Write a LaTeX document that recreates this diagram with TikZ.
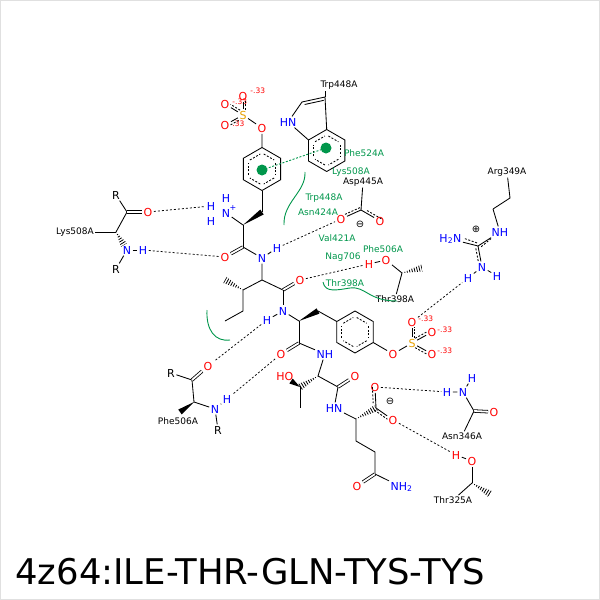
\documentclass[tikz,border=0pt]{standalone}
\usepackage{fontspec}
\setmainfont{DejaVu Sans}
\usepackage{tikz}
\usetikzlibrary{calc}
\definecolor{ored}{RGB}{255,0,0}
\definecolor{nblue}{RGB}{0,0,255}
\definecolor{sorange}{RGB}{230,160,0}
\definecolor{hgreen}{RGB}{0,150,75}
\newcommand{\wedgebond}[2]{\fill (#1) -- ($(#2)!3pt!90:(#1)$) -- ($(#2)!3pt!-90:(#1)$) -- cycle;}
\newcommand{\hashbond}[2]{\begin{scope}\clip (#1) -- ($(#2)!3.5pt!90:(#1)$) -- ($(#2)!3.5pt!-90:(#1)$) -- cycle;
  \draw[line width=8pt,dash pattern=on .8pt off 1.7pt] (#1) -- (#2);\end{scope}}
\newcommand{\parbond}[3][]{\draw[dl,#1] ($(#2)!2.6pt!-90:(#3)$) -- ($(#3)!2.6pt!90:(#2)$);}
\begin{document}
\begin{tikzpicture}[x=1pt,y=-1pt,line width=0.85pt,
  atom/.style={inner sep=1.2pt,font=\fontsize{11}{12}\selectfont},
  oatom/.style={atom,text=ored},
  natom/.style={atom,text=nblue},
  satom/.style={atom,text=sorange},
  res/.style={inner sep=1pt,font=\fontsize{9}{10}\selectfont},
  hres/.style={res,text=hgreen},
  chg/.style={inner sep=0pt,anchor=west,text=ored,font=\fontsize{7.5}{8}\selectfont},
  dl/.style={dash pattern=on 2pt off 1.6pt},
  hb/.style={dash pattern=on 2pt off 2pt,line width=0.75pt},
  dbl/.style={double,double distance=1.8pt,line width=0.8pt},
  hy/.style={draw=hgreen,line width=0.9pt}]
\useasboundingbox (0,0) rectangle (600,600);
\draw[black!12,line width=1pt] (0.5,0.5) rectangle (599.5,599.5);

% first TYS, ring and sulfate
\coordinate (ta) at (262,169);
\foreach \a [count=\i] in {270,330,30,90,150,210} \coordinate (ta\i) at ($(ta)+(\a:21.5)$);
\draw (ta1)--(ta2)--(ta3)--(ta4)--(ta5)--(ta6)--cycle;
\foreach \a in {270,330,...,570} \draw[dl,shorten <=2pt,shorten >=2pt] ($(ta)+(\a:16)$) -- ($(ta)+(\a+60:16)$);
\node[oatom] (toa) at (262,128) {O};
\node[satom] (tsa) at (243,115) {S};
\node[oatom] (toa1) at (243,96) {O};
\node[oatom] (toa2) at (225,104) {O};
\node[oatom] (toa3) at (225,125) {O};
\node[chg] at (250,91) {-.33};
\node[chg] at (232,102) {-.33};
\node[chg] at (232,124) {.33};
\draw (ta1) -- (toa) -- (tsa);
\draw (tsa) -- (toa1); \parbond[shorten <=5pt,shorten >=5pt]{tsa}{toa1}
\draw (tsa) -- (toa2); \parbond[shorten <=5pt,shorten >=5pt]{tsa}{toa2}
\draw (tsa) -- (toa3); \parbond[shorten <=5pt,shorten >=5pt]{toa3}{tsa}
\coordinate (tb) at (262,212);
\coordinate (tc) at (243,225);
\draw (ta4) -- (tb);
\wedgebond{tc}{tb}
\node[natom] (tn) at (226,213) {N};
\node[natom,font=\fontsize{8}{8}\selectfont,inner sep=0pt] at (233,208) {+};
\node[natom] (tnh1) at (226,198) {H};
\node[natom] (tnh2) at (211,206) {H};
\node[natom] (tnh3) at (211,221) {H};
\draw (tc) -- (tn);
\coordinate (tcc) at (243,247);
\draw (tc) -- (tcc);
\node[oatom] (tco) at (225,257) {O};
\draw[dbl] (tcc) -- (tco);

% ILE
\node[natom] (in) at (262,258) {N};
\node[natom] (inh) at (277,248) {H};
\draw (tcc) -- (in); \draw (in) -- (inh);
\coordinate (ia) at (262,280);
\coordinate (ib) at (243,290);
\coordinate (im) at (225,280);
\coordinate (ig) at (243,311);
\coordinate (id) at (225,321);
\coordinate (ic) at (283,290);
\draw (in) -- (ia) -- (ib) -- (ig) -- (id);
\hashbond{ib}{im}
\draw (ia) -- (ic);
\node[oatom] (io) at (300,280) {O};
\draw[dbl] (ic) -- (io);

% second TYS
\node[natom] (yn) at (283,311) {N};
\node[natom] (ynh) at (267,320) {H};
\draw (ic) -- (yn); \draw (yn) -- (ynh);
\coordinate (ya) at (299,321);
\coordinate (yb) at (318,311);
\draw (yn) -- (ya);
\wedgebond{ya}{yb}
\coordinate (yr) at (355,332);
\foreach \a [count=\i] in {270,330,30,90,150,210} \coordinate (yr\i) at ($(yr)+(\a:21)$);
\draw (yr1)--(yr2)--(yr3)--(yr4)--(yr5)--(yr6)--cycle;
\foreach \a in {270,330,...,570} \draw[dl,shorten <=2pt,shorten >=2pt] ($(yr)+(\a:15.5)$) -- ($(yr)+(\a+60:15.5)$);
\draw (yb) -- (yr6);
\node[oatom] (yoa) at (393,354) {O};
\node[satom] (ysa) at (412,343) {S};
\node[oatom] (yob) at (412,322) {O};
\node[oatom] (yoc) at (432,332) {O};
\node[oatom] (yod) at (432,354) {O};
\node[chg] at (418,319) {-.33};
\node[chg] at (437,330) {-.33};
\node[chg] at (437,351) {-.33};
\draw (yr3) -- (yoa) -- (ysa);
\draw (ysa) -- (yob); \parbond[shorten <=5pt,shorten >=5pt]{ysa}{yob}
\draw (ysa) -- (yoc); \parbond[shorten <=5pt,shorten >=5pt]{yoc}{ysa}
\draw (ysa) -- (yod); \parbond[shorten <=5pt,shorten >=5pt]{ysa}{yod}
\coordinate (yc) at (299,343);
\draw (ya) -- (yc);
\node[oatom] (yo) at (281,354) {O};
\draw[dbl] (yc) -- (yo);

% THR
\node[natom,anchor=west] (rn) at (315,354) {NH};
\draw (yc) -- (rn);
\coordinate (ha) at (318,376);
\coordinate (hb) at (300,387);
\coordinate (hw) at (291,381);
\coordinate (hg) at (300,408);
\coordinate (hc) at (338,387);
\draw (rn) -- (ha);
\hashbond{ha}{hb}
\node[oatom,anchor=east] (ho) at (295,376) {HO};
\wedgebond{hb}{hw}
\draw (hb) -- (hg);
\draw (ha) -- (hc);
\node[oatom] (hco) at (355,376) {O};
\draw[dbl] (hc) -- (hco);

% GLN
\node[natom,anchor=east] (qn) at (344,408) {HN};
\draw (hc) -- (qn);
\coordinate (qa) at (356,419);
\coordinate (qc) at (376,408);
\draw (qn) -- (qa);
\hashbond{qa}{qc}
\node[oatom] (qo1) at (375,387) {O};
\node[oatom] (qo2) at (393,420) {O};
\node[atom,font=\fontsize{10}{10}\selectfont,inner sep=0pt] at (390,401) {⊖};
\draw (qc) -- (qo1); \parbond[shorten >=5pt]{qo1}{qc}
\draw (qc) -- (qo2); \parbond[shorten >=5pt]{qc}{qo2}
\coordinate (qb) at (356,441);
\coordinate (qg) at (375,452);
\coordinate (qd) at (375,474);
\draw (qa) -- (qb) -- (qg) -- (qd);
\node[oatom] (qdo) at (357,486) {O};
\draw[dbl] (qd) -- (qdo);
\node[natom,anchor=west] (qdn) at (389,487) {NH\textsubscript{2}};
\draw (qd) -- (qdn);

% Asp445A
\node[res] (asp) at (363,182) {Asp445A};
\coordinate (dc) at (361,210);
\draw (asp) -- (dc);
\node[oatom] (do1) at (341,219) {O};
\node[oatom] (do2) at (380,221) {O};
\node[atom,font=\fontsize{10}{10}\selectfont,inner sep=0pt] at (360,224) {⊖};
\draw (dc) -- (do1); \parbond[shorten >=5pt]{dc}{do1}
\draw (dc) -- (do2); \parbond[shorten >=5pt]{do2}{dc}

% Thr398A
\node[oatom] (tho) at (386,260) {O};
\node[oatom] (thh) at (369,264) {H};
\draw (tho) -- (thh);
\coordinate (thc) at (402,273);
\coordinate (thm) at (422,268);
\draw (tho) -- (thc);
\hashbond{thc}{thm}
\node[res] (thr) at (395,299) {Thr398A};
\draw (thc) -- (thr);

% Arg349A
\node[res] (arg) at (507,172) {Arg349A};
\coordinate (g1) at (510,198);
\coordinate (g2) at (493,209);
\coordinate (gz) at (478,246);
\draw (arg) -- (g1) -- (g2);
\node[natom,anchor=west] (gne) at (490,232) {NH};
\node[natom,anchor=east] (gn1) at (463,239) {H\textsubscript{2}N};
\node[natom] (gn2) at (482,267) {N};
\node[natom] (gh1) at (497,276) {H};
\node[natom] (gh2) at (468,278) {H};
\node[atom,font=\fontsize{10}{10}\selectfont,inner sep=0pt] at (476,229) {⊕};
\draw (g2) -- (gne);
\draw (gz) -- (gne); \parbond[shorten <=2pt,shorten >=6pt]{gz}{495,232}
\draw (gz) -- (gn1); \parbond[shorten <=2pt,shorten >=6pt]{gz}{458,239}
\draw (gz) -- (gn2); \parbond[shorten <=2pt,shorten >=6pt]{gz}{482,267}
\draw (gn2) -- (gh1); \draw (gn2) -- (gh2);

% Asn346A
\node[natom] (nh1) at (447,392) {H};
\node[natom] (nn) at (463,392) {N};
\node[natom] (nh2) at (472,378) {H};
\draw (nh1) -- (nn) -- (nh2);
\coordinate (nc) at (474,411);
\draw (nn) -- (nc);
\node[oatom] (no) at (494,412) {O};
\draw[dbl] (nc) -- (no);
\node[res] (asn) at (462,436) {Asn346A};
\draw (nc) -- (asn);

% Thr325A
\node[oatom] (uh) at (456,455) {H};
\node[oatom] (uo) at (472,461) {O};
\draw (uh) -- (uo);
\coordinate (uc) at (472,483);
\coordinate (um) at (490,494);
\draw (uo) -- (uc);
\hashbond{uc}{um}
\node[res] (thrb) at (453,500) {Thr325A};
\draw (uc) -- (thrb);

% Lys508A
\node[res] (lys) at (75,232) {Lys508A};
\node[atom] (lr1) at (116,195) {R};
\coordinate (lc) at (127,212);
\coordinate (la) at (116,232);
\coordinate (lw) at (124,245);
\draw (lr1) -- (lc) -- (la);
\node[oatom] (lo) at (148,212) {O};
\draw[dbl] (lc) -- (lo);
\draw (lys) -- (la);
\hashbond{la}{lw}
\node[natom] (ln) at (127,250) {N};
\node[natom] (lh) at (143,250) {H};
\node[atom] (lr2) at (116,269) {R};
\draw (ln) -- (lh); \draw (ln) -- (lr2);

% Phe506A
\node[atom] (pr1) at (171,373) {R};
\coordinate (pc) at (192,380);
\coordinate (pa) at (194,402);
\coordinate (pw) at (180,412);
\draw (pr1) -- (pc) -- (pa);
\node[oatom] (po) at (208,366) {O};
\draw[dbl] (pc) -- (po);
\wedgebond{pa}{pw}
\node[res] (phe) at (178,421) {Phe506A};
\node[natom] (pn) at (215,409) {N};
\node[natom] (ph) at (227,399) {H};
\node[atom] (pr2) at (218,430) {R};
\draw (pa) -- (pn); \draw (pn) -- (ph); \draw (pn) -- (pr2);

% Trp448A
\coordinate (w) at (326.7,150.5);
\foreach \a [count=\i] in {270,330,30,90,150,210} \coordinate (w\i) at ($(w)+(\a:21)$);
\draw (w1)--(w2)--(w3)--(w4)--(w5)--(w6)--cycle;
\foreach \a in {270,330,...,570} \draw[dl,shorten <=2pt,shorten >=2pt] ($(w)+(\a:15.5)$) -- ($(w)+(\a+60:15.5)$);
\node[natom,anchor=east] (wn) at (298,122) {HN};
\coordinate (wc2) at (302,102);
\coordinate (wc3) at (325,97);
\draw (w6) -- (wn) -- (wc2) -- (wc3) -- (w1);
\draw[shorten <=2pt,shorten >=2pt] ($(wc2)!3pt!-90:(wc3)$) -- ($(wc3)!3pt!90:(wc2)$);
\node[res] (trp) at (339,85) {Trp448A};
\draw (wc3) -- (wc3 |- trp.south);

% hydrophobic contacts
\coordinate (ga) at (262,170);
\coordinate (gb) at (326,148);
\fill[hgreen] (ga) circle (5.5);
\fill[hgreen] (gb) circle (5.5);
\draw[hy,dl] (ga) -- (gb);
\node[hres] at (364,153) {Phe524A};
\node[hres] at (351,172) {Lys508A};
\node[hres] at (324,198) {Trp448A};
\node[hres] at (318,212) {Asn424A};
\node[hres] at (337,238) {Val421A};
\node[hres] at (383,249) {Phe506A};
\node[hres] at (343,257) {Nag706};
\node[hres] at (345,283) {Thr398A};
\draw[hy] (305,172) .. controls (306,192) and (283,202) .. (284,225);
\draw[hy] (207,310) .. controls (206,330) and (215,342) .. (230,340);
\draw[hy] (323,282) .. controls (325,293) and (337,290) .. (350,288) .. controls (366,286) and (368,301) .. (397,301);

% hydrogen bonds
\draw[hb] (lo) -- (tnh2);
\draw[hb] (lh) -- (tco);
\draw[hb] (inh) -- (do1);
\draw[hb] (io) -- (thh);
\draw[hb] (ynh) -- (po);
\draw[hb] (yo) -- (ph);
\draw[hb] (yob) -- (gh2);
\draw[hb] (qo1) -- (nh1);
\draw[hb] (qo2) -- (uh);

\node[anchor=base west,inner sep=0pt,font=\fontsize{35.4}{40}\selectfont] (title) at (15,584) {4z64:ILE-THR-GLN-TYS-TYS};
\end{tikzpicture}
\end{document}
